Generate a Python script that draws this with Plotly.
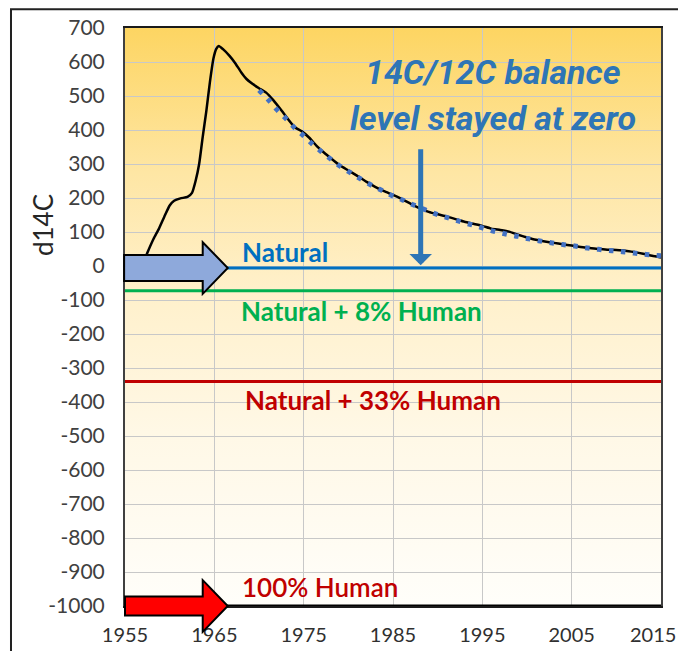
import base64
import plotly.graph_objects as go

# ---------------- data ----------------
obs_years = [1957.2, 1957.6, 1958.2, 1958.8, 1959.4, 1960.0, 1960.5, 1961.2, 1962.0, 1962.5,
             1962.9, 1963.3, 1963.7, 1964.1, 1964.5, 1964.9, 1965.2, 1965.5, 1966.0, 1966.7,
             1967.3, 1968.0, 1968.6, 1969.3, 1970.0, 1970.8, 1971.6, 1972.5, 1973.3, 1974.0,
             1974.8, 1975.6, 1976.5, 1977.3, 1978.0, 1979.0, 1980.0, 1981.0, 1982.0, 1983.0,
             1984.0, 1985.0, 1986.0, 1987.0, 1988.0, 1989.0, 1990.0, 1991.0, 1992.0, 1993.0,
             1994.0, 1995.0, 1996.0, 1997.0, 1998.0, 1999.0, 2000.0, 2001.0, 2002.0, 2003.0,
             2004.0, 2005.0, 2006.0, 2007.0, 2008.0, 2009.0, 2010.0, 2011.0, 2012.0, 2013.0,
             2014.0, 2015.0]
obs_d14c = [20, 45, 80, 110, 145, 178, 192, 199, 203, 215,
            250, 300, 380, 455, 540, 610, 638, 647, 637, 618,
            598, 570, 550, 535, 523, 510, 488, 458, 430, 408,
            396, 378, 352, 333, 318, 297, 281, 265, 248, 233,
            220, 209, 197, 183, 170, 159, 152, 146, 138, 130,
            124, 118, 110, 106, 101, 92, 84, 77, 72, 68,
            64, 60, 56, 53, 50, 48, 47, 45, 41, 36,
            30, 25]

fit_years = list(range(1970, 2016))
fit_d14c = [517, 490, 460, 434, 406, 383, 358, 336, 315, 295,
            278, 262, 246, 232, 219, 206, 195, 183, 172, 161,
            151, 143, 135, 127, 120, 112, 104, 98, 92, 87,
            81, 76, 71, 67, 63, 60, 56, 52, 49, 46,
            44, 41, 38, 35, 32, 30]

level_years = [1955, 2015]
level_natural = -6
level_natural_8 = -73
level_natural_33 = -340
level_human_100 = -1000

x_ticks = [1955, 1965, 1975, 1985, 1995, 2005, 2015]
y_ticks = list(range(-1000, 701, 100))
y_ticktext = [str(v) for v in y_ticks]

X_RANGE = [1955, 2015]
Y_RANGE = [-1000, 700]

# ---------------- colours ----------------
BLUE = "#0070C0"
GREEN = "#00B050"
RED = "#C00000"
FIT_BLUE = "#4472C4"
NOTE_BLUE = "#2E75B6"

fig = go.Figure()

# observed curve
fig.add_trace(go.Scatter(x=obs_years, y=obs_d14c, mode="lines",
                         line=dict(color="black", width=2.5, shape="spline", smoothing=0.5),
                         hoverinfo="skip", showlegend=False))
# exponential fit (dotted)
fig.add_trace(go.Scatter(x=fit_years, y=fit_d14c, mode="lines",
                         line=dict(color=FIT_BLUE, width=5, dash="4.5px,7.5px", shape="spline"),
                         hoverinfo="skip", showlegend=False))
# level lines
for lvl, col, w in [(level_natural, BLUE, 3), (level_natural_8, GREEN, 3),
                    (level_natural_33, RED, 3), (level_human_100, "black", 3)]:
    fig.add_trace(go.Scatter(x=level_years, y=[lvl, lvl], mode="lines",
                             line=dict(color=col, width=w),
                             hoverinfo="skip", showlegend=False))

# ---------------- background gradient ----------------
svg = ("<svg xmlns='http://www.w3.org/2000/svg' width='10' height='170' viewBox='0 0 10 170' "
       "preserveAspectRatio='none'><defs><linearGradient id='g' x1='0' y1='0' x2='0' y2='1'>"
       "<stop offset='0' stop-color='#FDD562'/>"
       "<stop offset='0.25' stop-color='#FEE6A4'/>"
       "<stop offset='0.45' stop-color='#FFF0CA'/>"
       "<stop offset='0.7' stop-color='#FFF8E6'/>"
       "<stop offset='1' stop-color='#FFFEFA'/>"
       "</linearGradient></defs><rect width='10' height='170' fill='url(#g)'/></svg>")
src = "data:image/svg+xml;base64," + base64.b64encode(svg.encode()).decode()
fig.add_layout_image(dict(source=src, xref="x", yref="y", x=X_RANGE[0], y=Y_RANGE[1],
                          sizex=X_RANGE[1] - X_RANGE[0], sizey=Y_RANGE[1] - Y_RANGE[0],
                          sizing="stretch", layer="below", xanchor="left", yanchor="top"))


def px(v):
    return (v - X_RANGE[0]) / (X_RANGE[1] - X_RANGE[0])


def py(v):
    return (v - Y_RANGE[0]) / (Y_RANGE[1] - Y_RANGE[0])


def block_arrow(yc, shaft_half, head_half, x0, xb, xt):
    pts = [(x0, yc + shaft_half), (xb, yc + shaft_half), (xb, yc + head_half), (xt, yc),
           (xb, yc - head_half), (xb, yc - shaft_half), (x0, yc - shaft_half)]
    return "M " + " L ".join(f"{px(a):.5f},{py(b):.5f}" for a, b in pts) + " Z"


fig.add_shape(type="path", xref="paper", yref="paper",
              path=block_arrow(level_natural, 38, 76, 1954.9, 1963.7, 1966.5),
              fillcolor="#8EA9DB", line=dict(color="black", width=2), layer="above")
fig.add_shape(type="path", xref="paper", yref="paper",
              path=block_arrow(level_human_100, 28, 76, 1955.0, 1963.7, 1966.5),
              fillcolor="#FF0000", line=dict(color="black", width=2), layer="above")

# outer frame (top and left edges)
fig.add_shape(type="path", xref="paper", yref="paper",
              path="M -0.2127,-0.09 L -0.2127,1.0325 L 1.06,1.0325",
              line=dict(color="#222222", width=2))

# ---------------- labels ----------------
lab_font = dict(family="Lato", size=26, weight="bold")
fig.add_annotation(x=1972.9, y=40, text="Natural", showarrow=False,
                   font=dict(lab_font, color=BLUE))
fig.add_annotation(x=1981.5, y=-133, text="Natural + 8% Human", showarrow=False,
                   font=dict(lab_font, color=GREEN))
fig.add_annotation(x=1982.8, y=-393, text="Natural + 33% Human", showarrow=False,
                   font=dict(lab_font, color=RED))
fig.add_annotation(x=1976.8, y=-945, text="100% Human", showarrow=False,
                   font=dict(family="Lato", size=26, weight=600, color=RED))

note_font = dict(family="Roboto", size=34, weight="bold", style="italic", color=NOTE_BLUE)
fig.add_annotation(x=1996.2, y=571, text="14C/12C balance", showarrow=False, font=note_font)
fig.add_annotation(x=1996.2, y=436, text="level stayed at zero", showarrow=False, font=note_font)
fig.add_annotation(x=1988.1, y=2, ax=1988.1, ay=348, axref="x", ayref="y", text="",
                   showarrow=True, arrowhead=1, arrowsize=0.75, arrowwidth=5,
                   arrowcolor=NOTE_BLUE)

# y-axis title placed where the original has it
fig.add_annotation(xref="paper", yref="paper", x=-0.153, y=0.659, text="d14C",
                   textangle=-90, showarrow=False, xanchor="center", yanchor="middle",
                   font=dict(family="Lato", size=26, color="#262626"))

# last x tick label, nudged left so it stays inside the visible page
x_tick_font = dict(family="Lato", size=20, color="#303030")
x_ticktext = [str(v) for v in x_ticks[:-1]] + [""]
fig.add_annotation(xref="x", yref="paper", x=x_ticks[-1], y=0, text=str(x_ticks[-1]),
                   showarrow=False, xanchor="center", yanchor="middle",
                   xshift=-8, yshift=-28, font=x_tick_font)

fig.update_layout(
    width=678, height=643,
    margin=dict(l=117, r=25, t=20, b=45, autoexpand=False),
    paper_bgcolor="white", plot_bgcolor="white",
    showlegend=False,
    xaxis=dict(range=X_RANGE, tickvals=x_ticks, ticktext=x_ticktext,
               showgrid=True, gridcolor="#C8C8C8", gridwidth=1, zeroline=False,
               showline=True, linecolor="#1a1a1a", linewidth=2, mirror=True,
               ticks="", tickfont=x_tick_font,
               ticklabelstandoff=10, automargin=False, ticklabeloverflow="allow"),
    yaxis=dict(range=Y_RANGE, tickvals=y_ticks, ticktext=y_ticktext,
               showgrid=True, gridcolor="#C8C8C8", gridwidth=1, zeroline=False,
               showline=True, linecolor="#404040", linewidth=2, mirror=True,
               ticks="", tickfont=dict(family="Lato", size=21, color="#404040"),
               ticklabelstandoff=14, automargin=False),
)

fig.write_html("out.html",
               post_script="document.documentElement.style.overflow='hidden';"
                           "document.body.style.overflow='hidden';")
